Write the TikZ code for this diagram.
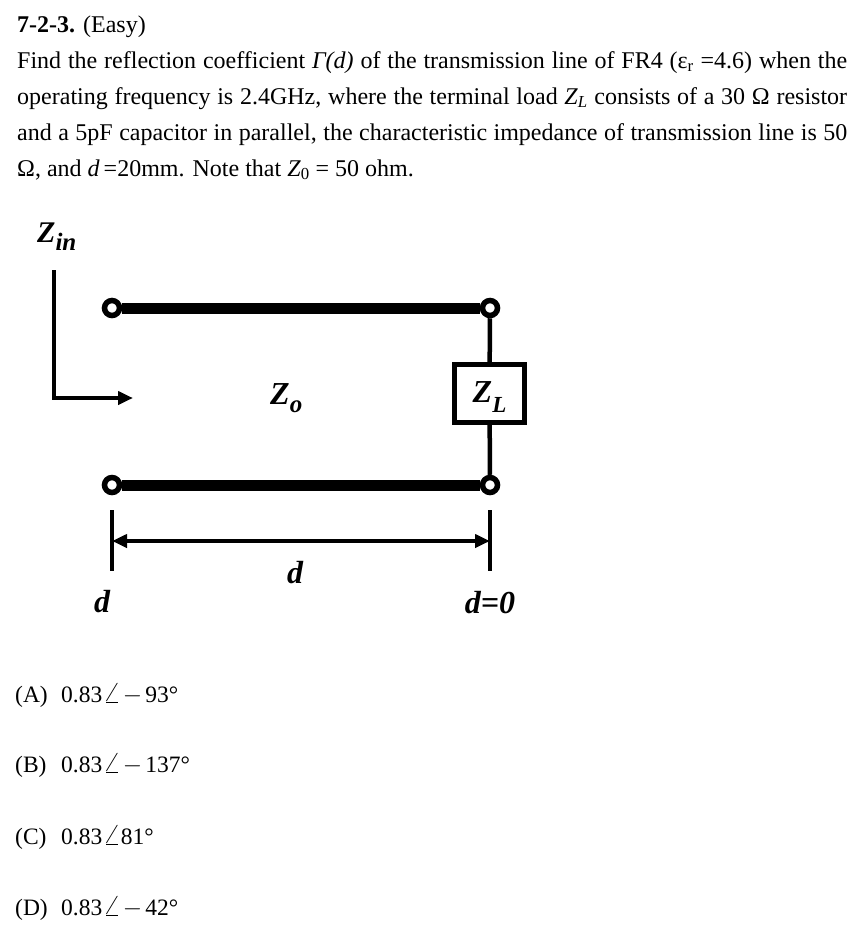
\documentclass[tikz,border=0pt]{standalone}
\usepackage[no-math]{fontspec}
\usepackage{graphicx}
\setmainfont{Liberation Serif}
\newfontfamily\plainserif{Liberation Serif}
\usetikzlibrary{arrows.meta,backgrounds}
\tikzset{mytip/.tip={Triangle[length=15pt,width=13pt]}}
\newcommand{\angval}[1]{0.83\kern0.5pt\scalebox{1.35}[1.15]{$\angle$}#1}
\begin{document}
\begin{tikzpicture}[x=1pt,y=1pt,
  txt/.style={inner sep=0, anchor=base west, font=\fontsize{24}{28}\selectfont},
  ans/.style={inner sep=0, anchor=base west, font=\plainserif\fontsize{23.5}{26}\selectfont},
  lbl/.style={inner sep=0, font=\plainserif\bfseries\itshape\fontsize{32}{36}\selectfont},
  tline/.style={line width=11pt},
  thinline/.style={line width=4.5pt},
  term/.style={circle, draw, fill=white, line width=5.5pt, minimum size=15pt, inner sep=0},
  zbox/.style={draw, fill=white, line width=4.5pt, minimum width=70pt, minimum height=58pt, inner sep=0, text height=26pt, text depth=9pt}
]
\useasboundingbox (0,0) rectangle (858,-937);
% question text
\node[txt] (l1) at (17,-32) {\textbf{7-2-3.} (Easy)};
\node[txt] (l2) at (17,-68) {\makebox[830pt][s]{Find the reflection coefficient \textit{Γ(d)} of the transmission line of FR4 (ε\textsubscript{r} =4.6) when the}};
\node[txt] (l3) at (17,-104) {\makebox[830pt][s]{operating frequency is 2.4GHz, where the terminal load \textit{Z\textsubscript{L}} consists of a 30 Ω resistor}};
\node[txt] (l4) at (17,-140) {\makebox[830pt][s]{and a 5pF capacitor in parallel, the characteristic impedance of transmission line is 50}};
\node[txt] (l5) at (17,-176) {Ω, and \textit{d}\,=20mm. Note that \textit{Z}\textsubscript{0} = 50 ohm.};
% circuit
\node[term] (t1) at (112,-308) {};
\node[term] (t2) at (490,-308) {};
\node[term] (t3) at (112,-485) {};
\node[term] (t4) at (490,-485) {};
\node[zbox] (zl) at (489.5,-393.5) {\plainserif\bfseries\itshape\fontsize{32}{36}\selectfont Z\raisebox{-10pt}{\fontsize{23}{23}\selectfont L}};
\begin{scope}[on background layer]
\draw[tline] (t1) -- (t2);
\draw[tline] (t3) -- (t4);
\draw[thinline] (t2) -- (zl) -- (t4);
\end{scope}
% Zin arrow
\node[lbl, anchor=base west, font=\plainserif\bfseries\itshape\fontsize{30}{34}\selectfont] (zin) at (37,-242) {Z\raisebox{-8pt}{\fontsize{25}{25}\selectfont in}};
\coordinate (zs) at (54,-270);
\coordinate (ze) at (133,-398);
\draw[thinline, -{mytip}] (zs) |- (ze);
% Zo label
\node[lbl, anchor=base west] (zo) at (270,-404) {Z\raisebox{-8pt}{\fontsize{25}{25}\selectfont o}};
% dimension
\coordinate (la) at (112,-510);
\coordinate (lb) at (112,-571);
\coordinate (ra) at (490,-510);
\coordinate (rb) at (490,-571);
\coordinate (lm) at (112,-541);
\coordinate (rm) at (490,-541);
\draw[thinline] (la) -- (lb);
\draw[thinline] (ra) -- (rb);
\draw[line width=4pt, {mytip}-{mytip}] (lm) -- (rm);
\node[lbl, anchor=base] (dc) at (295,-583) {d};
\node[lbl, anchor=base] (dl) at (102,-612) {d};
\node[lbl, anchor=base] (d0) at (490,-613) {d=0};
% answers
\node[ans] (aA) at (15,-702) {(A)};
\node[ans] (vA) at (61,-702) {\angval{\kern2pt$-$\kern3pt93°}};
\node[ans] (aB) at (15,-772) {(B)};
\node[ans] (vB) at (61,-772) {\angval{\kern2pt$-$\kern3pt137°}};
\node[ans] (aC) at (15,-844) {(C)};
\node[ans] (vC) at (61,-844) {\angval{81°}};
\node[ans] (aD) at (15,-915) {(D)};
\node[ans] (vD) at (61,-915) {\angval{\kern2pt$-$\kern3pt42°}};
\end{tikzpicture}
\end{document}
